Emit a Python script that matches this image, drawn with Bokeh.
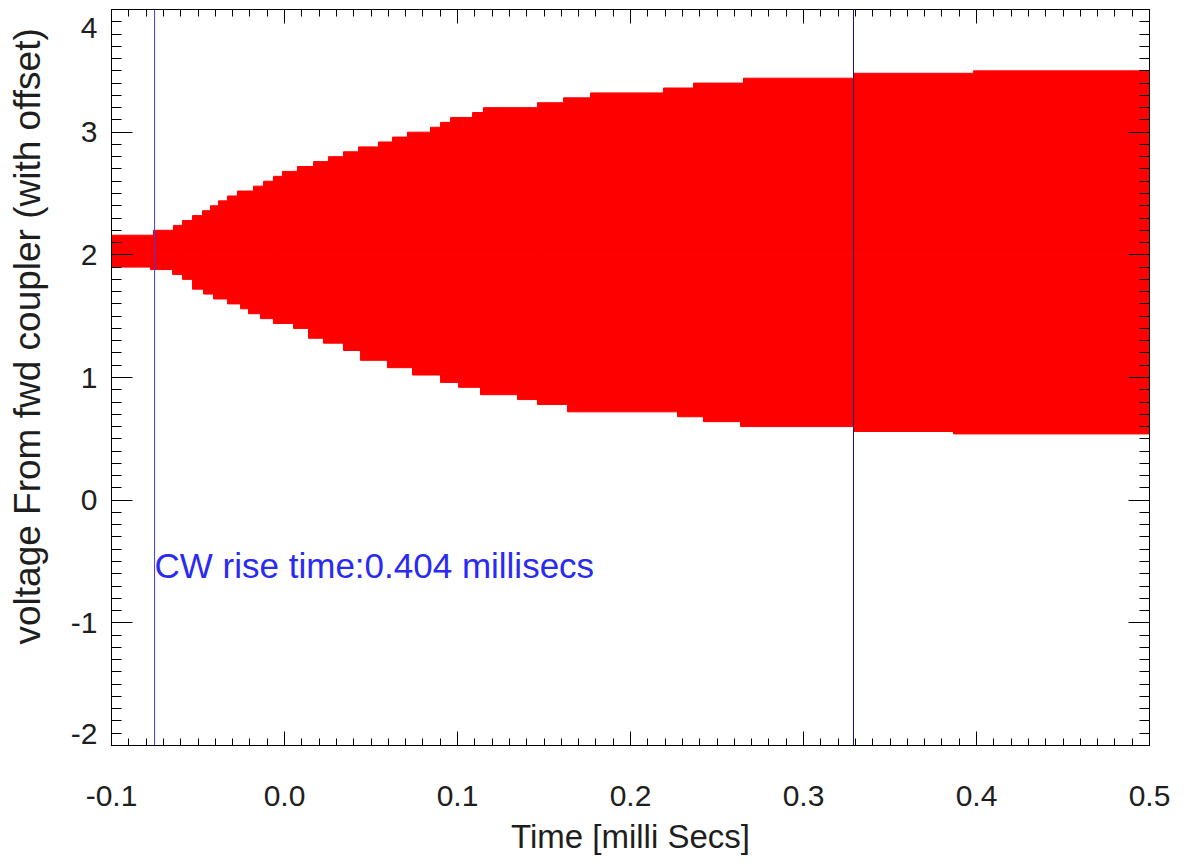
from bokeh.plotting import figure
from bokeh.models import (Span, Label, LinearAxis, FixedTicker, PrintfTickFormatter,
                          CustomJSTickFormatter, Range1d, ColumnDataSource,
                          CustomLabelingPolicy)
from bokeh.embed import file_html
from bokeh.resources import INLINE

# ---- data ----
# upper envelope of the forward-coupler signal: start time of each level [ms], level [V]
upper_t = [-0.1000, -0.0757, -0.0642, -0.0590, -0.0532, -0.0474, -0.0428, -0.0382,
           -0.0329, -0.0272, -0.0179, -0.0121, -0.0064, -0.0012, 0.0075, 0.0168,
           0.0254, 0.0341, 0.0428, 0.0543, 0.0624, 0.0711, 0.0844, 0.0902,
           0.0960, 0.1087, 0.1150, 0.1462, 0.1613, 0.1769, 0.2191, 0.2364,
           0.2653, 0.3289, 0.3983]
upper_v = [2.16, 2.20, 2.24, 2.28, 2.32, 2.36, 2.40, 2.44,
           2.48, 2.52, 2.56, 2.60, 2.64, 2.68, 2.72, 2.76,
           2.80, 2.84, 2.88, 2.92, 2.96, 3.00, 3.04, 3.08,
           3.12, 3.16, 3.20, 3.24, 3.28, 3.32, 3.36, 3.40,
           3.44, 3.48, 3.50]
# lower envelope: start time of each level [ms], level [V]
lower_t = [-0.1000, -0.0775, -0.0647, -0.0590, -0.0532, -0.0468, -0.0410, -0.0329,
           -0.0254, -0.0208, -0.0139, -0.0064, 0.0052, 0.0139, 0.0225, 0.0341,
           0.0439, 0.0595, 0.0740, 0.0902, 0.1006, 0.1133, 0.1347, 0.1462,
           0.1636, 0.2272, 0.2422, 0.2636, 0.3289, 0.3867]
lower_v = [1.90, 1.88, 1.84, 1.80, 1.72, 1.68, 1.64, 1.60,
           1.56, 1.52, 1.48, 1.44, 1.40, 1.32, 1.28, 1.22,
           1.14, 1.08, 1.02, 0.96, 0.92, 0.86, 0.82, 0.78,
           0.72, 0.68, 0.64, 0.60, 0.56, 0.54]
offset_v = 2.0          # the signal offset (centre of the band)
t_end = 0.5
rise_start = -0.0751
rise_time = 0.404
x_ticks = [-0.1, 0.0, 0.1, 0.2, 0.3, 0.4, 0.5]
y_ticks = [-2, -1, 0, 1, 2, 3, 4]

FONT = "Liberation Sans"
TXT = "#1e1e1e"
RED = "#ff0000"
FRAME_H = 736
PX_PER_V = FRAME_H / (y_ticks[-1] - y_ticks[0])

p = figure(frame_width=1038, frame_height=FRAME_H,
           x_range=Range1d(x_ticks[0], x_ticks[-1]),
           y_range=Range1d(y_ticks[0], y_ticks[-1]),
           x_axis_type=None, y_axis_type=None,
           output_backend="svg", toolbar_location=None,
           min_border_left=111, min_border_top=9, min_border_right=30,
           min_border_bottom=0)
p.grid.visible = False
p.outline_line_color = "black"
p.background_fill_color = "white"
p.border_fill_color = "white"

up_src = ColumnDataSource(dict(left=upper_t, right=upper_t[1:] + [t_end],
                               top=upper_v, bottom=[offset_v] * len(upper_v)))
lo_src = ColumnDataSource(dict(left=lower_t, right=lower_t[1:] + [t_end],
                               top=[offset_v] * len(lower_v), bottom=lower_v))
for s in (up_src, lo_src):
    p.quad(left="left", right="right", top="top", bottom="bottom", source=s,
           fill_color=RED, line_color=RED, line_width=1)

x_minor = [round(x_ticks[0] + i * 0.01, 4) for i in range(61)]
y_minor = [round(y_ticks[0] + i * 0.1, 4) for i in range(61)]


def style(ax, tick_in, minor_in, labels=True):
    ax.axis_line_color = "black"
    ax.major_tick_line_color = "black"
    ax.minor_tick_line_color = "black"
    ax.major_tick_in = tick_in
    ax.major_tick_out = 0
    ax.minor_tick_in = minor_in
    ax.minor_tick_out = 0
    ax.major_label_text_font = FONT
    ax.major_label_text_color = TXT
    ax.axis_label_text_font = FONT
    ax.axis_label_text_color = TXT
    ax.axis_label_text_font_style = "normal"
    if not labels:
        ax.major_label_text_font_size = "1px"
        ax.major_label_standoff = 0
        ax.major_label_policy = CustomLabelingPolicy(code="return []")


xb = LinearAxis(ticker=FixedTicker(ticks=x_ticks, minor_ticks=x_minor),
                formatter=PrintfTickFormatter(format="%.1f"),
                axis_label="Time [milli Secs]")
style(xb, 14, 7)
xb.major_label_text_font_size = "30px"
xb.major_label_standoff = 40
xb.axis_label_text_font_size = "33px"
xb.axis_label_standoff = 9
p.add_layout(xb, "below")

xt = LinearAxis(ticker=FixedTicker(ticks=x_ticks, minor_ticks=x_minor))
style(xt, 14, 7, labels=False)
p.add_layout(xt, "above")

# left axis: line and ticks
yl = LinearAxis(ticker=FixedTicker(ticks=y_ticks, minor_ticks=y_minor))
style(yl, 21, 10, labels=False)
p.add_layout(yl, "left")

# left axis labels: the two end labels are pulled inside the frame, as in the original
label_pos = [y_ticks[0] + 12 / PX_PER_V] + y_ticks[1:-1] + [y_ticks[-1] - 18 / PX_PER_V]
yll = LinearAxis(ticker=FixedTicker(ticks=label_pos, minor_ticks=[]),
                 formatter=CustomJSTickFormatter(code="return Math.round(tick).toFixed(0)"),
                 axis_label="\u00a0" * 8 + "voltage From fwd coupler (with offset)")
style(yll, 0, 0)
yll.axis_line_color = None
yll.major_tick_line_color = None
yll.minor_tick_line_color = None
yll.major_label_text_font_size = "30px"
yll.major_label_standoff = 10
yll.axis_label_text_font_size = "37px"
yll.axis_label_standoff = 20
p.add_layout(yll, "left")

yr = LinearAxis(ticker=FixedTicker(ticks=y_ticks, minor_ticks=y_minor))
style(yr, 21, 10, labels=False)
p.add_layout(yr, "right")

p.add_layout(Span(location=rise_start, dimension="height",
                  line_color="#3a3aff", line_width=1))
p.add_layout(Span(location=rise_start + rise_time, dimension="height",
                  line_color="#14147a", line_width=1))

p.add_layout(Label(x=rise_start, y=-0.53,
                   text="CW rise time:%.3f millisecs" % rise_time,
                   text_align="left", text_baseline="middle",
                   text_font=FONT, text_font_size="35px",
                   text_color="#2a2af5"))

open("out.html", "w").write(file_html(p, INLINE))
